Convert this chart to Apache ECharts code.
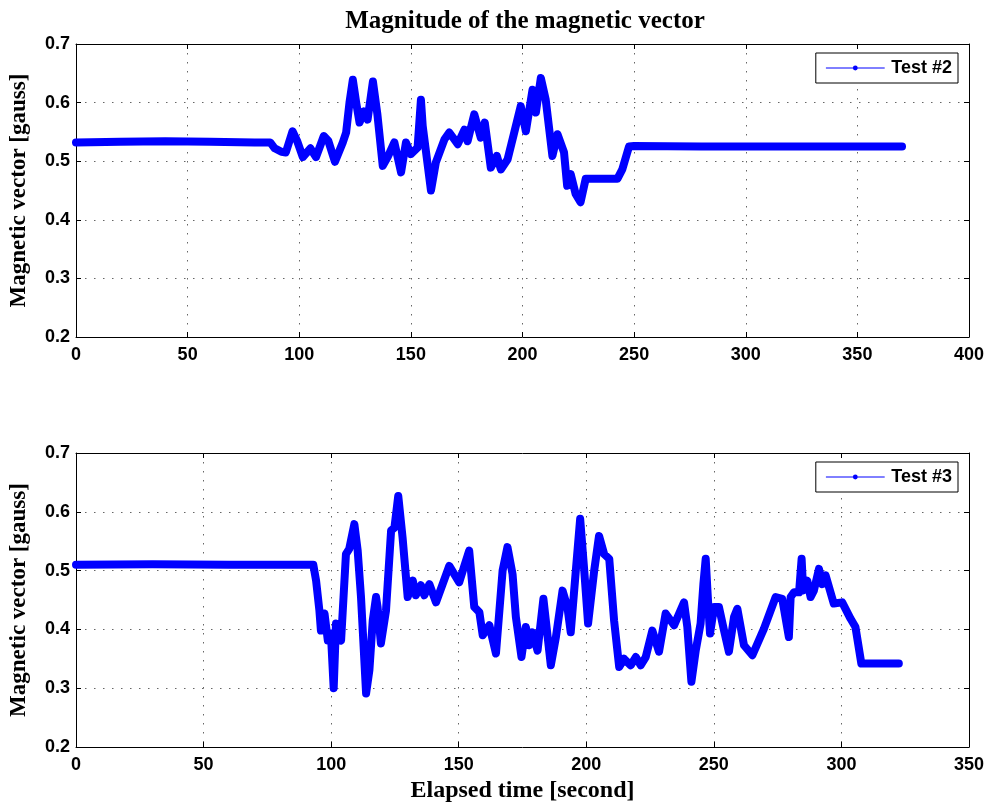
<!DOCTYPE html>
<html>
<head>
<meta charset="utf-8">
<script src="https://cdn.jsdelivr.net/npm/echarts@6/dist/echarts.min.js"></script>
<style>
  html, body { margin: 0; padding: 0; background: #fff; }
  #main { width: 989px; height: 805px; }
</style>
</head>
<body>
<div id="main"></div>
<script>
// Test #2 : elapsed time [s] and magnitude [gauss]
var time2 = [0, 20, 40, 60, 80, 87, 89, 92, 94, 97, 99, 101.6, 105, 107.5, 111, 113, 116, 119.5, 121, 122.5,
  124, 125.5, 127, 129, 130.6, 133, 135, 137.4, 139.6, 142.6, 145.6, 147.8, 150, 153, 154.5, 155.3, 159, 161.2,
  165, 167.2, 171, 174, 175.4, 178.4, 181.3, 183.1, 185.8, 188.5, 190.3, 193.3, 196.3, 199.2, 201.5, 204.5, 206,
  208.2, 210.4, 213.4, 215.7, 218.6, 220, 221.6, 223.8, 226, 228.3, 235, 242.5, 244.7, 247.7, 250, 280, 310, 340, 370];
var mag2 = [0.532, 0.533, 0.534, 0.533, 0.532, 0.532, 0.522, 0.516, 0.515, 0.551, 0.535, 0.507, 0.522, 0.507, 0.543,
  0.535, 0.499, 0.532, 0.549, 0.600, 0.639, 0.600, 0.566, 0.585, 0.571, 0.636, 0.580, 0.492, 0.507, 0.532, 0.481,
  0.532, 0.512, 0.523, 0.605, 0.560, 0.450, 0.498, 0.537, 0.549, 0.529, 0.554, 0.534, 0.580, 0.540, 0.566, 0.489,
  0.509, 0.486, 0.503, 0.549, 0.594, 0.551, 0.622, 0.583, 0.642, 0.605, 0.509, 0.546, 0.515, 0.458, 0.478, 0.444,
  0.430, 0.470, 0.470, 0.470, 0.486, 0.525, 0.526, 0.525, 0.525, 0.525, 0.525];

// Test #3
var time3 = [0, 30, 60, 93, 94.1, 95.4, 96, 97.4, 98.7, 99.9, 101, 101.9, 103.9, 105.8, 107.1, 109.1, 110.4, 111.7,
  113.7, 115, 116.3, 117.6, 118.2, 119.5, 121.5, 123.5, 124.8, 126.3, 128, 130, 132, 133.2, 135.2, 136.5, 138.5,
  141.1, 143.7, 146.3, 150.2, 152.2, 154.1, 156.1, 158.1, 159.4, 162, 164.6, 167.2, 169.1, 171.1, 172.4, 174.6,
  176.3, 177.6, 178.9, 180.9, 183.2, 186.1, 188.1, 190.7, 192.6, 193.9, 195.9, 197.6, 199.2, 200.7, 203.1, 205,
  207, 209, 210.9, 212.9, 214.8, 217.4, 219.4, 221.3, 223.3, 225.9, 228.5, 231.1, 234.4, 238.3, 239.6, 241.2,
  242.9, 244.8, 245.9, 246.8, 247.7, 248.5, 250.1, 252, 254, 255.9, 257.9, 259.2, 261.8, 265.1, 269.6, 274.2,
  276.8, 279.4, 280.1, 281.4, 283.4, 284.4, 285, 286.6, 287.9, 289.2, 291.2, 292.5, 293.8, 297, 300.3, 303.6,
  305.5, 307.8, 315, 322.5];
var mag3 = [0.510, 0.511, 0.510, 0.510, 0.483, 0.432, 0.398, 0.427, 0.381, 0.393, 0.300, 0.410, 0.381, 0.528, 0.537,
  0.579, 0.534, 0.455, 0.291, 0.331, 0.415, 0.455, 0.438, 0.376, 0.432, 0.568, 0.573, 0.627, 0.556, 0.455, 0.483,
  0.458, 0.475, 0.458, 0.477, 0.446, 0.477, 0.508, 0.480, 0.508, 0.534, 0.438, 0.429, 0.390, 0.407, 0.359, 0.500,
  0.540, 0.494, 0.421, 0.353, 0.404, 0.373, 0.395, 0.364, 0.452, 0.339, 0.387, 0.466, 0.438, 0.395, 0.500, 0.588,
  0.500, 0.410, 0.500, 0.559, 0.528, 0.520, 0.415, 0.336, 0.350, 0.339, 0.353, 0.339, 0.353, 0.398, 0.362, 0.427,
  0.407, 0.446, 0.404, 0.311, 0.364, 0.410, 0.477, 0.520, 0.449, 0.393, 0.438, 0.438, 0.398, 0.362, 0.421, 0.435,
  0.373, 0.356, 0.401, 0.455, 0.452, 0.387, 0.455, 0.463, 0.463, 0.520, 0.466, 0.483, 0.455, 0.466, 0.503, 0.477,
  0.492, 0.444, 0.446, 0.418, 0.404, 0.342, 0.342, 0.342];

var yTicks = [0.2, 0.3, 0.4, 0.5, 0.6, 0.7];

function pairs(t, v) {
  return t.map(function (x, i) { return [x, v[i]]; });
}

var tickFont = { fontFamily: 'Liberation Sans', fontSize: 18, fontWeight: 'bold', color: '#000' };
var nameFont = { fontFamily: 'Liberation Serif', fontSize: 23, fontWeight: 'bold', color: '#000' };
var gridDots = { show: true, lineStyle: { color: '#666', width: 1, type: [1.5, 7.5] } };
var blackLine = { show: true, onZero: false, lineStyle: { color: '#000', width: 1 } };
var inTick = { show: true, inside: true, length: 5, lineStyle: { color: '#000' } };

function xMain(grid, max, name) {
  return {
    type: 'value', gridIndex: grid, min: 0, max: max, interval: 50, position: 'bottom',
    axisLine: blackLine, axisTick: inTick, splitLine: gridDots,
    axisLabel: Object.assign({ margin: 9 }, tickFont),
    name: name, nameLocation: 'middle', nameGap: 32,
    nameTextStyle: Object.assign({}, nameFont, { fontSize: 24 })
  };
}
function xTop(grid, max) {
  return {
    type: 'value', gridIndex: grid, min: 0, max: max, interval: 50, position: 'top',
    axisLine: blackLine, axisTick: inTick, splitLine: { show: false }, axisLabel: { show: false }
  };
}
function yMain(grid) {
  return {
    type: 'value', gridIndex: grid, min: yTicks[0], max: yTicks[yTicks.length - 1], interval: 0.1,
    position: 'left', axisLine: blackLine, axisTick: inTick, splitLine: gridDots,
    axisLabel: Object.assign({ margin: 6, formatter: function (v) { return v.toFixed(1); } }, tickFont),
    name: 'Magnetic vector [gauss]', nameLocation: 'middle', nameGap: 45, nameRotate: 90,
    nameTextStyle: nameFont
  };
}
function yRight(grid) {
  return {
    type: 'value', gridIndex: grid, min: 0.2, max: 0.7, interval: 0.1, position: 'right',
    axisLine: blackLine, axisTick: inTick, splitLine: { show: false }, axisLabel: { show: false }
  };
}

function legendBox(top, name) {
  return {
    data: [name], right: 31, top: top, orient: 'vertical',
    backgroundColor: '#fff', borderColor: '#000', borderWidth: 1, borderRadius: 0,
    padding: [6, 6, 6, 10], itemWidth: 58, itemHeight: 6, itemGap: 0,
    lineStyle: { width: 1 },
    textStyle: { fontFamily: 'Liberation Sans', fontSize: 18, fontWeight: 'bold', color: '#000', padding: [0, 0, 0, 2] }
  };
}

var lineSeries = function (name, xi, yi, data) {
  return {
    name: name, type: 'line', xAxisIndex: xi, yAxisIndex: yi, data: data,
    symbol: 'circle', symbolSize: 6, showSymbol: true, showAllSymbol: true,
    color: '#0000ff',
    lineStyle: { color: '#0000ff', width: 8, join: 'round', cap: 'round' },
    itemStyle: { color: '#0000ff' },
    animation: false, z: 3
  };
};

var option = {
  backgroundColor: '#fff',
  animation: false,
  title: {
    text: 'Magnitude of the magnetic vector',
    left: 520, top: 4, textAlign: 'center',
    textStyle: { fontFamily: 'Liberation Serif', fontSize: 25, fontWeight: 'bold', color: '#000' }
  },
  legend: [legendBox(53, 'Test #2'), legendBox(462, 'Test #3')],
  grid: [
    { left: 76, right: 20, top: 44, height: 293 },
    { left: 76, right: 20, top: 453, height: 294 }
  ],
  xAxis: [xMain(0, 400, ''), xTop(0, 400), xMain(1, 350, 'Elapsed time [second]'), xTop(1, 350)],
  yAxis: [yMain(0), yRight(0), yMain(1), yRight(1)],
  series: [
    lineSeries('Test #2', 0, 0, pairs(time2, mag2)),
    lineSeries('Test #3', 2, 2, pairs(time3, mag3))
  ]
};

var chart = echarts.init(document.getElementById('main'));
chart.setOption(option);
</script>
</body>
</html>
